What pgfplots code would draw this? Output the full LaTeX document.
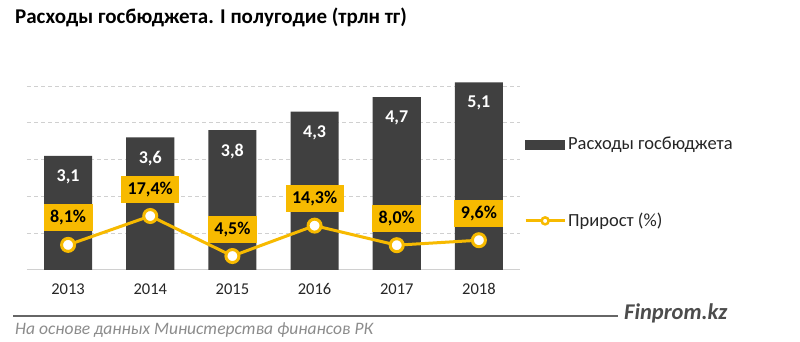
\documentclass[border=0pt]{standalone}
\usepackage{pgfplots}
\pgfplotsset{compat=1.18}
\usepackage{fontspec}
\setmainfont{Carlito}
\definecolor{barcol}{HTML}{404040}
\definecolor{ylw}{HTML}{F7BA00}
\definecolor{gridc}{HTML}{D0D0D0}
\begin{document}
\begin{tikzpicture}[x=1pt,y=1pt]
\useasboundingbox[fill=white] (0,0) rectangle (800,342);
\node[anchor=west,font=\fontsize{21}{23}\selectfont\bfseries,text=black,inner sep=0pt] at (15,325) {Расходы госбюджета. I полугодие (трлн тг)};
\begin{axis}[
  at={(27pt,72pt)}, anchor=south west,
  scale only axis, width=493pt, height=191.4pt,
  xmin=-0.5, xmax=5.5, ymin=0, ymax=5.2,
  axis lines=none,
  ybar, bar width=48pt,
  xtick=\empty, ytick=\empty,
  clip=false,
  /pgf/number format/.cd, use comma, fixed, fixed zerofill, precision=1, assume math mode=true,
]
\foreach \yy in {1,2,3,4,5} {
  \edef\tmp{\noexpand\draw[gridc, dash pattern=on 4pt off 3pt, line width=0.8pt] (axis cs:-0.5,\yy) -- (axis cs:5.5,\yy);}
  \tmp
}
\draw[gridc, line width=1pt] (axis cs:-0.5,0) -- (axis cs:5.5,0);
\addplot[fill=barcol, draw=none,
  nodes near coords,
  every node near coord/.style={anchor=center, yshift=-21pt, text=white, font=\fontsize{18}{20}\selectfont\bfseries},
] coordinates {(0,3.1) (1,3.6) (2,3.8) (3,4.3) (4,4.7) (5,5.1)};
\foreach \i/\lab in {0/2013,1/2014,2/2015,3/2016,4/2017,5/2018} {
  \edef\tmp{\noexpand\node[font=\noexpand\fontsize{16.5}{18}\noexpand\selectfont, text=black!85] at (axis cs:\i,0) [yshift=-19pt] {\lab};}
  \tmp
}
\end{axis}
\begin{axis}[
  at={(27pt,72pt)}, anchor=south west,
  scale only axis, width=493pt, height=191.4pt,
  xmin=-0.5, xmax=5.5, ymin=0, ymax=61.7,
  axis lines=none, xtick=\empty, ytick=\empty,
  clip=false,
  /pgf/number format/.cd, use comma, fixed, fixed zerofill, precision=1, assume math mode=true,
  /pgfplots/.cd,
  legend style={at={(rel axis cs:1.008,0.705)}, anchor=north west, draw=none, fill=none,
    font=\fontsize{18.5}{20}\selectfont, row sep=58pt, inner sep=0pt,
    nodes={inner sep=2pt, text=black!85}},
  legend cell align=left,
]
\addlegendimage{area legend, legend image code/.code={\fill[barcol] (0pt,-4.5pt) rectangle (39pt,4.5pt);}}
\addlegendentry{Расходы госбюджета}
\addplot[ylw, line width=3pt, mark=*, mark size=6.5pt,
  mark options={fill=white, draw=ylw, line width=3pt},
  nodes near coords={\pgfmathprintnumber{\pgfplotspointmeta}\%},
  every node near coord/.style={anchor=center, yshift=27pt, fill=ylw, text=black,
    font=\fontsize{18}{20}\selectfont\bfseries, minimum height=27pt, inner xsep=6.5pt},
  legend image code/.code={\draw[ylw, line width=3pt] (0pt,0pt) -- (39pt,0pt);
     \draw[ylw, line width=2.5pt, fill=white] (19.5pt,0pt) circle (3.5pt);},
] coordinates {(0,8.1) (1,17.4) (2,4.5) (3,14.3) (4,8.0) (5,9.6)};
\addlegendentry{Прирост (\%)}
\end{axis}
\draw[black!60, line width=2pt] (13,26) -- (618,26);
\node[anchor=west, inner sep=0pt, font=\fontsize{22.5}{24}\selectfont\bfseries\itshape, text=black!70] at (624,29) {Finprom.kz};
\node[anchor=west, inner sep=0pt, font=\fontsize{17.5}{19}\selectfont\itshape, text=black!45] at (15,12) {На основе данных Министерства финансов РК};
\end{tikzpicture}
\end{document}
